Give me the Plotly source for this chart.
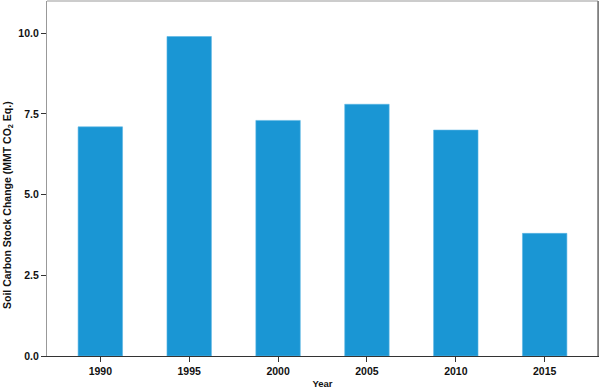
import plotly.graph_objects as go

years = ["1990", "1995", "2000", "2005", "2010", "2015"]
values = [7.1, 9.9, 7.3, 7.8, 7.0, 3.8]
y_ticks = [0, 2.5, 5, 7.5, 10]
y_tick_labels = ["0.0", "2.5", "5.0", "7.5", "10.0"]

bar_color = "#1a96d4"
font_family = "Liberation Sans, Arial, sans-serif"

fig = go.Figure(go.Bar(
    x=years, y=values, width=0.5,
    marker=dict(color=bar_color, line=dict(color="#5bb6e4", width=0.6)),
))

fig.update_layout(
    width=600, height=389,
    margin=dict(l=47, r=2, t=1, b=33),
    plot_bgcolor="white", paper_bgcolor="white",
    showlegend=False,
    font=dict(family=font_family, color="#111", size=10, weight="bold"),
    xaxis=dict(
        type="category", range=[-0.6, 5.6],
        showline=True, linecolor="#333", linewidth=1.2,
        ticks="outside", ticklen=5, tickcolor="#333", tickwidth=1.2,
        tickfont=dict(size=10.5, family=font_family, weight="bold", color="#111"),
        title=dict(text="Year", font=dict(size=9.5, family=font_family, weight="bold", color="#111"), standoff=6),
        showgrid=False, zeroline=False,
    ),
    yaxis=dict(
        range=[0, 11],
        tickvals=y_ticks, ticktext=y_tick_labels,
        showline=True, linecolor="#999", linewidth=1.2, mirror=True,
        ticks="outside", ticklen=5, tickcolor="#333", tickwidth=1.2,
        tickfont=dict(size=10.5, family=font_family, weight="bold", color="#111"),
        showgrid=False, zeroline=False,
    ),
    annotations=[dict(
        text="Soil Carbon Stock Change (MMT CO<sub>2</sub> Eq.)",
        xref="paper", yref="paper", x=-0.071, y=0.425,
        xanchor="center", yanchor="middle", textangle=-90, showarrow=False,
        font=dict(size=10.5, family=font_family, weight="bold", color="#111"),
    )],
)

# light top border and darker right border of the frame
fig.add_shape(type="line", xref="paper", yref="paper", x0=0, x1=1, y0=1, y1=1,
              line=dict(color="#bbb", width=1.5))
fig.add_shape(type="line", xref="paper", yref="paper", x0=1, x1=1, y0=0, y1=1,
              line=dict(color="#777", width=1.5))

fig.write_html("out.html")
